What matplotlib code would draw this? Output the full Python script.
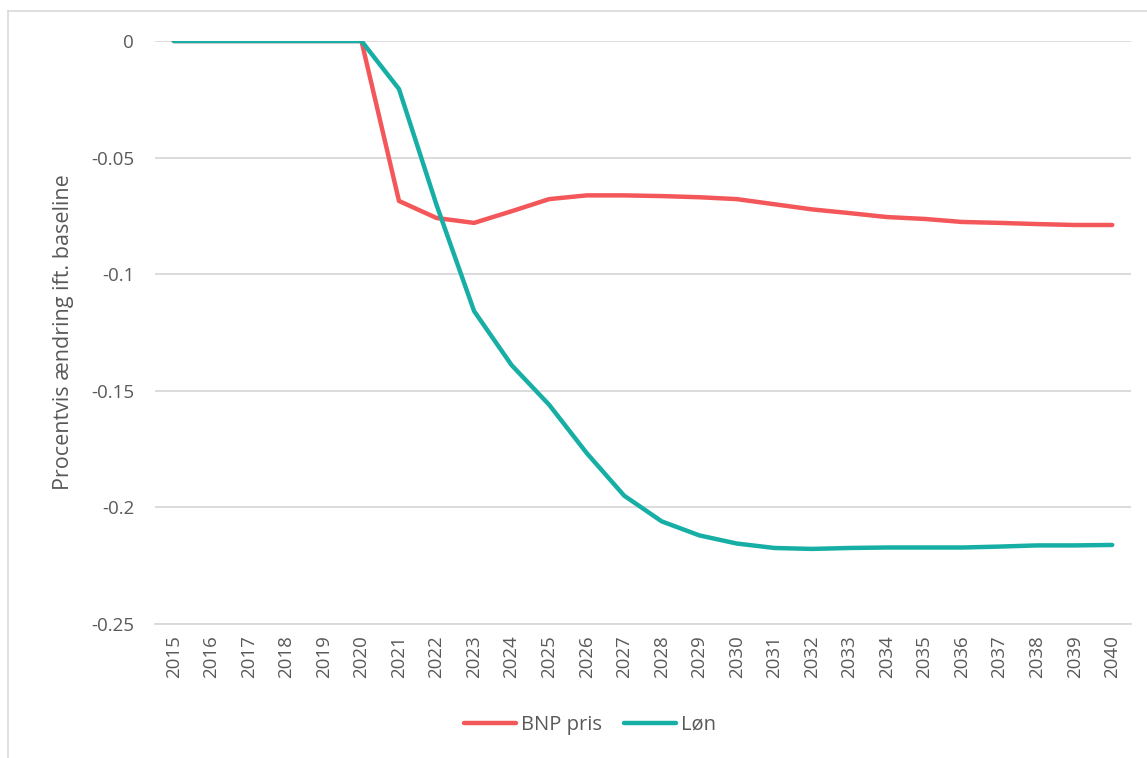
import matplotlib
matplotlib.use("Agg")
import matplotlib.pyplot as plt
from matplotlib.lines import Line2D

years = [str(y) for y in range(2015, 2041)]

bnp_pris = [0, 0, 0, 0, 0, 0,
            -0.0686, -0.0759, -0.0780, -0.0730, -0.0678, -0.0662,
            -0.0662, -0.0665, -0.0670, -0.0678, -0.0700, -0.0722,
            -0.0738, -0.0755, -0.0763, -0.0776, -0.0780, -0.0785,
            -0.0789, -0.0789]

loen = [0, 0, 0, 0, 0, 0,
        -0.0206, -0.0703, -0.1158, -0.1390, -0.1560, -0.1767,
        -0.1950, -0.2060, -0.2120, -0.2155, -0.2174, -0.2178,
        -0.2174, -0.2172, -0.2172, -0.2172, -0.2168, -0.2163,
        -0.2163, -0.2161]

yticks = [0, -0.05, -0.1, -0.15, -0.2, -0.25]
ytick_labels = ["0", "-0.05", "-0.1", "-0.15", "-0.2", "-0.25"]

RED = "#F4575A"
TEAL = "#17AFA5"
TXT = "#595959"
GRID = "#D9D9D9"

plt.rcParams["font.family"] = ["Open Sans", "DejaVu Sans"]

W, H = 1147, 758
fig = plt.figure(figsize=(W / 100, H / 100), dpi=100)
ax = fig.add_axes([155 / W, 1 - 624 / H, (1131 - 155) / W, (624 - 41) / H])

x = list(range(len(years)))
ax.plot(x, bnp_pris, color=RED, lw=3.2, solid_capstyle="round",
        solid_joinstyle="round", label="BNP pris", zorder=3)
ax.plot(x, loen, color=TEAL, lw=3.2, solid_capstyle="round",
        solid_joinstyle="round", label="Løn", zorder=3)

ax.set_xlim(-0.5, len(years) - 0.5)
ax.set_ylim(-0.25, 0)
ax.set_yticks(yticks)
ax.set_yticklabels(ytick_labels)
ax.set_xticks(x)
ax.set_xticklabels(years, rotation=90)

ax.grid(axis="y", color=GRID, lw=1.3)
ax.set_axisbelow(True)
for side in ("top", "right", "left"):
    ax.spines[side].set_visible(False)
ax.spines["bottom"].set_color(GRID)
ax.spines["bottom"].set_linewidth(1.3)
ax.tick_params(axis="both", length=0, colors=TXT, labelsize=13.5)
ax.tick_params(axis="y", pad=15)
ax.tick_params(axis="x", pad=8)

ax.set_ylabel("Procentvis ændring ift. baseline", color=TXT, fontsize=15.5,
              labelpad=12)

leg = fig.legend(loc="center", bbox_to_anchor=(590 / W, 1 - 725 / H), ncol=2,
                 frameon=False, fontsize=14.5, handlelength=2.6,
                 columnspacing=1.1, handletextpad=0.25)
for t in leg.get_texts():
    t.set_color(TXT)

# chart frame
fig.add_artist(Line2D([8 / W, 1.0], [1 - 11 / H, 1 - 11 / H], color=GRID, lw=1.2))
fig.add_artist(Line2D([8 / W, 8 / W], [0, 1 - 11 / H], color=GRID, lw=1.2))

fig.savefig("out.png", dpi=100, facecolor="white")
